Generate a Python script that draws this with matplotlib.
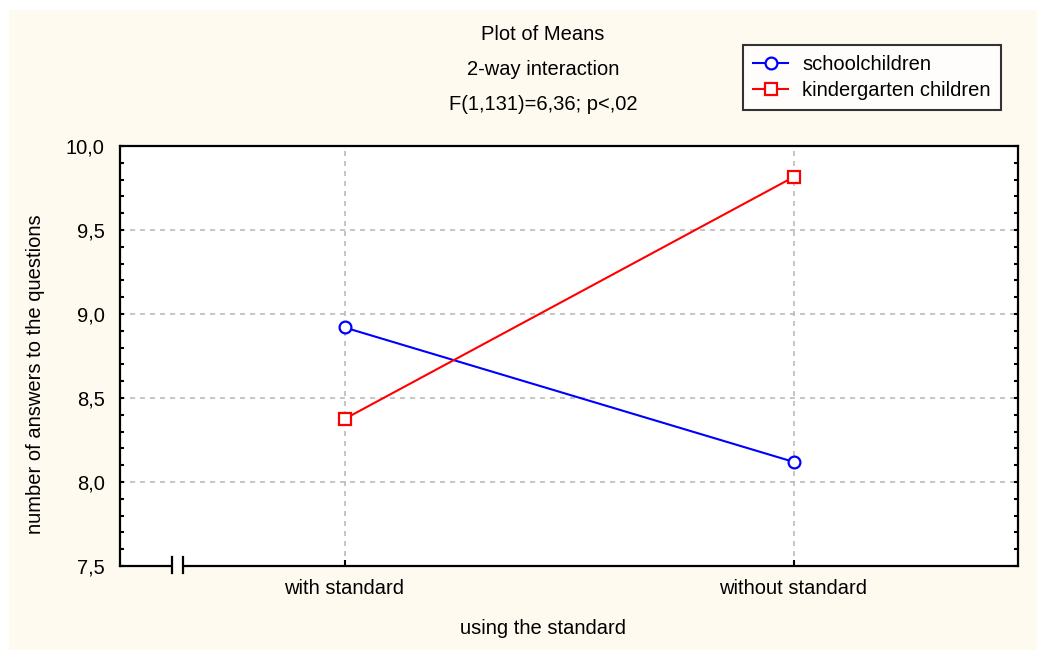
import matplotlib
matplotlib.use("Agg")
import matplotlib.pyplot as plt
from matplotlib.patches import Rectangle
from matplotlib.lines import Line2D

plt.rcParams['font.family'] = ['Liberation Sans', 'DejaVu Sans']

categories = ["with standard", "without standard"]
schoolchildren = [8.92, 8.12]
kindergarten = [8.375, 9.815]
series_names = ["schoolchildren", "kindergarten children"]
yticks = [7.5, 8.0, 8.5, 9.0, 9.5, 10.0]
ytick_labels = ["7,5", "8,0", "8,5", "9,0", "9,5", "10,0"]
title_lines = ["Plot of Means", "2-way interaction", "F(1,131)=6,36; p<,02"]
xlabel = "using the standard"
ylabel = "number of answers to the questions"

W, H = 1037, 650
fig = plt.figure(figsize=(W / 100, H / 100), dpi=100, facecolor="white")
fig.patches.append(Rectangle((9 / W, 0), 1, 1 - 10 / H, transform=fig.transFigure,
                             facecolor="#FFFAF0", edgecolor="none", zorder=-10))

ax = fig.add_axes([120 / W, 1 - 566 / H, (1018 - 120) / W, (566 - 146) / H])
ax.set_facecolor("white")
fs = 14.5

x = list(range(len(categories)))
ax.plot(x, schoolchildren, color="#0000FF", lw=1.5, marker="o", ms=8.5,
        mfc="white", mec="#0000FF", mew=1.6, label=series_names[0], zorder=3)
ax.plot(x, kindergarten, color="#FF0000", lw=1.5, marker="s", ms=8.5,
        mfc="white", mec="#FF0000", mew=1.6, label=series_names[1], zorder=3)

ax.set_xlim(-0.5, 1.5)
ax.set_ylim(7.5, 10.0)
ax.set_xticks(x)
ax.set_xticklabels(categories, fontsize=fs)
ax.set_yticks(yticks)
ax.set_yticklabels(ytick_labels, fontsize=fs)
ax.set_yticks([7.5 + 0.1 * i for i in range(26)], minor=True)
ax.tick_params(axis="y", which="both", direction="in", length=3, width=1.5,
               left=True, right=True, pad=11)
ax.tick_params(axis="x", which="major", direction="in", length=4, width=1.5,
               bottom=True, top=False, pad=9)

ax.grid(True, which="major", color="#BBBBBB", linestyle=(0, (3, 3)), lw=1.2)
for s in ax.spines.values():
    s.set_linewidth(1.6)
    s.set_color("black")

# axis break marks
ax.add_patch(Rectangle((0.0585, -0.01), 0.011, 0.02, transform=ax.transAxes,
                       facecolor="white", edgecolor="none", clip_on=False, zorder=5))
for xb in (0.0576, 0.0705):
    ax.add_line(Line2D([xb, xb], [-0.016, 0.022], transform=ax.transAxes,
                       color="black", lw=1.6, clip_on=False, zorder=6))

fig.text(543 / W, 1 - 629 / H, xlabel, ha="center", va="center", fontsize=fs)
fig.text(36 / W, 1 - 374 / H, ylabel, ha="center", va="center", fontsize=fs,
         rotation=90)

for i, t in enumerate(title_lines):
    fig.text(543 / W, 1 - (35 + 34.5 * i) / H, t,
             ha="center", va="center", fontsize=fs)

leg = fig.legend(loc="upper left", bbox_to_anchor=(743 / W, 1 - 45 / H),
                 fontsize=fs, frameon=True, fancybox=False, edgecolor="black",
                 handlelength=1.75, borderpad=0.5, labelspacing=0.35,
                 handletextpad=0.7, borderaxespad=0)
leg.get_frame().set_linewidth(1.5)

fig.savefig("out.png", dpi=100, facecolor=fig.get_facecolor())
